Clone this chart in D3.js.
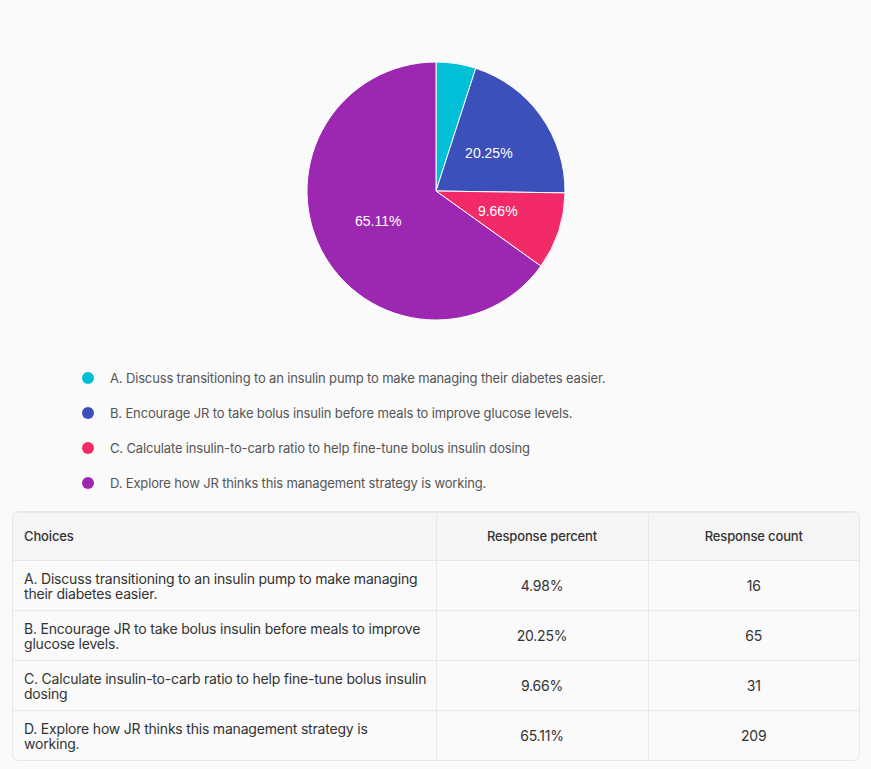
<!DOCTYPE html>
<html>
<head>
<meta charset="utf-8">
<script src="https://cdn.jsdelivr.net/npm/d3@7"></script>
<style>
  html, body { margin: 0; padding: 0; background: #fafafa; }
  body { width: 871px; height: 769px; position: relative; overflow: hidden; font-family: Inter, "Noto Sans", sans-serif; }
  #chart { position: absolute; left: 0; top: 0; }
  #table-wrap {
    position: absolute; left: 12px; top: 511px; width: 846px;
    border: 1px solid #e8e8e8; border-radius: 6px; overflow: hidden; background: #fafafa;
  }
  table { border-collapse: collapse; width: 100%; table-layout: fixed; }
  th { background: #f5f5f5; font-size: 13px; font-weight: 500; color: #333; height: 45px; padding: 0 11px 2px 11px; letter-spacing: -0.15px; }
  td { font-size: 14px; color: #333; height: 49px; padding: 0 11px; line-height: 15px; letter-spacing: -0.2px; }
  td.choice { white-space: pre; padding-right: 2px; }
  th, td { border-left: 1px solid #e8e8e8; border-top: 1px solid #e8e8e8; }
  tr:first-child th { border-top: none; }
  th:first-child, td:first-child { border-left: none; text-align: left; }
  th.c, td.c { text-align: center; }
</style>
</head>
<body>
<svg id="chart" width="871" height="505"></svg>
<div id="table-wrap"><table id="tbl"></table></div>
<script>
  const choices = [
    "A. Discuss transitioning to an insulin pump to make managing their diabetes easier.",
    "B. Encourage JR to take bolus insulin before meals to improve glucose levels.",
    "C. Calculate insulin-to-carb ratio to help fine-tune bolus insulin dosing",
    "D. Explore how JR thinks this management strategy is working.",
  ];
  // same choices as they wrap inside the table's first column
  const tableChoices = [
    "A. Discuss transitioning to an insulin pump to make managing\ntheir diabetes easier.",
    "B. Encourage JR to take bolus insulin before meals to improve\nglucose levels.",
    "C. Calculate insulin-to-carb ratio to help fine-tune bolus insulin\ndosing",
    "D. Explore how JR thinks this management strategy is\nworking.",
  ];
  const percents = [4.98, 20.25, 9.66, 65.11];
  const counts = [16, 65, 31, 209];
  const colors = ["#00bfd6", "#3c50bc", "#f22a68", "#9c28b1"];
  const headers = ["Choices", "Response percent", "Response count"];

  const CONFIG = {
    cx: 436,
    cy: 191,
    radius: 129,
    labelRadius: 65,
    legendX: 88,
    legendY: 378,
    legendStep: 35,
  };

  const rows = choices.map((c, i) => ({
    choice: c,
    tableChoice: tableChoices[i],
    percent: percents[i],
    count: counts[i],
    color: colors[i],
  }));

  const svg = d3.select("#chart");
  const g = svg.append("g").attr("transform", `translate(${CONFIG.cx},${CONFIG.cy})`);

  const pie = d3.pie().sort(null).value((d) => d.count);
  const arc = d3.arc().innerRadius(0).outerRadius(CONFIG.radius);
  const labelArc = d3.arc().innerRadius(CONFIG.labelRadius).outerRadius(CONFIG.labelRadius);

  const arcs = pie(rows);

  g.selectAll("path.slice")
    .data(arcs)
    .enter()
    .append("path")
    .attr("class", "slice")
    .attr("d", arc)
    .attr("fill", (d) => d.data.color)
    .attr("stroke", "#fff")
    .attr("stroke-width", 1);

  // labels only on slices big enough to hold them
  g.selectAll("text.slice-label")
    .data(arcs.filter((d) => d.data.percent > 6))
    .enter()
    .append("text")
    .attr("class", "slice-label")
    .attr("transform", (d) => `translate(${labelArc.centroid(d)})`)
    .attr("text-anchor", "middle")
    .attr("dominant-baseline", "central")
    .attr("fill", "#fff")
    .style("font-family", "'Liberation Sans', Arial, sans-serif")
    .style("font-size", "14px")
    .text((d) => `${d.data.percent.toFixed(2)}%`);

  // Legend
  const legend = svg.append("g").attr("transform", `translate(${CONFIG.legendX},${CONFIG.legendY})`);
  const items = legend
    .selectAll("g.item")
    .data(rows)
    .enter()
    .append("g")
    .attr("class", "item")
    .attr("transform", (d, i) => `translate(0,${i * CONFIG.legendStep})`);

  items.append("circle").attr("r", 6).attr("fill", (d) => d.color);

  items
    .append("text")
    .attr("x", 22)
    .attr("dominant-baseline", "central")
    .attr("fill", "#555")
    .style("font-size", "13px")
    .style("letter-spacing", "-0.15px")
    .text((d) => d.choice);

  // Table
  const table = d3.select("#tbl");
  const colgroup = table.append("colgroup");
  [423, 212, 211].forEach((w) => colgroup.append("col").style("width", `${w}px`));

  table
    .append("tr")
    .selectAll("th")
    .data(headers)
    .enter()
    .append("th")
    .attr("class", (d, i) => (i > 0 ? "c" : null))
    .text((d) => d);

  const tr = table.selectAll("tr.row").data(rows).enter().append("tr").attr("class", "row");
  tr.append("td").attr("class", "choice").text((d) => d.tableChoice);
  tr.append("td").attr("class", "c").text((d) => `${d.percent.toFixed(2)}%`);
  tr.append("td").attr("class", "c").text((d) => d.count);
</script>
</body>
</html>
